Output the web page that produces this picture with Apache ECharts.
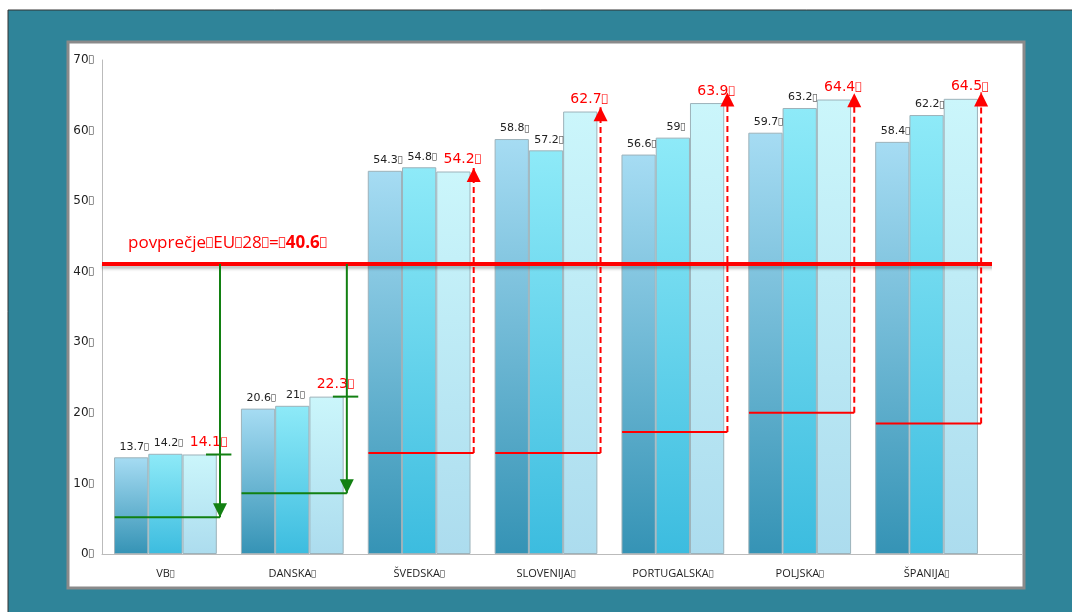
<!DOCTYPE html>
<html lang="sl">
<head>
<meta charset="UTF-8">
<title>povprečje EU28</title>
<style>
    html, body { margin: 0; padding: 0; background: #fff; }
    #main { width: 1072px; height: 612px; }
</style>
</head>
<body>
<div id="main"></div>
<script src="https://cdn.jsdelivr.net/npm/echarts@6/dist/echarts.min.js"></script>
<script>
    var T = '\uE000'; // stray glyph that shows as a box in the source
    var countries = ['VB', 'DANSKA', 'ŠVEDSKA', 'SLOVENIJA', 'PORTUGALSKA', 'POLJSKA', 'ŠPANIJA'];
    var valuesA = [13.7, 20.6, 54.3, 58.8, 56.6, 59.7, 58.4];
    var valuesB = [14.2, 21, 54.8, 57.2, 59, 63.2, 62.2];
    var valuesC = [14.1, 22.3, 54.2, 62.7, 63.9, 64.4, 64.5];
    var euAverage = 40.6;
    var euLineLevel = 41.1;
    // green drop arrows (below average) and red rise arrows (above average)
    var dropLevel = [5.2, 8.6, null, null, null, null, null];
    var riseBase = [null, null, 14.3, 14.3, 17.3, 20.0, 18.5];
    var riseTop = [null, null, 54.7, 63.3, 65.4, 65.3, 65.4];

    var myChart = echarts.init(document.getElementById('main'));

    function grad(top, bottom) {
        return new echarts.graphic.LinearGradient(0, 0, 0, 1, [
            {offset: 0, color: top},
            {offset: 1, color: bottom}
        ]);
    }

    // value + small box glyph
    function boxed(v) {
        return '{v|' + v + '}{t|' + T + '}';
    }
    function boxRich(color, size, family) {
        return {
            v: {color: color, fontSize: size, fontFamily: family},
            t: {color: color, fontSize: Math.round(size * 0.75), fontFamily: 'DejaVu Sans'}
        };
    }

    function barSeries(data, top, bottom, labelColor, labelSize, dx) {
        return {
            type: 'bar',
            xAxisIndex: 0,
            yAxisIndex: 0,
            data: data,
            barGap: 0,
            barCategoryGap: '19%',
            itemStyle: {
                color: grad(top, bottom),
                borderColor: '#9db2ba',
                borderWidth: 1
            },
            label: {
                show: true,
                position: 'top',
                offset: [dx, 0],
                formatter: function (p) { return boxed(p.value); },
                rich: boxRich(labelColor, labelSize, 'DejaVu Sans')
            },
            z: 2
        };
    }

    var series = [
        barSeries(valuesA, '#a6dcf3', '#3593b5', '#222', 11, 3),
        barSeries(valuesB, '#8eeaf8', '#3cbcdf', '#222', 11, 3),
        barSeries(valuesC, '#cbf6fb', '#acdcee', '#ff0000', 14, 9)
    ];

    // average line
    series.push({
        type: 'line',
        xAxisIndex: 1,
        yAxisIndex: 0,
        clip: false,
        symbol: 'none',
        data: [[0, euLineLevel], [7.05, euLineLevel]],
        lineStyle: {
            color: '#ff0000', width: 4,
            shadowColor: 'rgba(0,0,0,0.25)', shadowBlur: 3, shadowOffsetY: 3
        },
        z: 5
    });

    for (var i = 0; i < countries.length; i++) {
        var xr = i + 0.93;
        if (dropLevel[i] != null) {
            series.push({
                type: 'line', xAxisIndex: 1, yAxisIndex: 0, clip: false,
                symbol: 'none',
                data: [[i + 0.1, dropLevel[i]], [xr, dropLevel[i]]],
                lineStyle: {color: '#128012', width: 2},
                z: 6
            });
            series.push({
                type: 'line', xAxisIndex: 1, yAxisIndex: 0, clip: false,
                symbol: 'none',
                data: [[i + 0.82, valuesC[i]], [i + 1.02, valuesC[i]]],
                lineStyle: {color: '#128012', width: 2},
                z: 6
            });
            series.push({
                type: 'line', xAxisIndex: 1, yAxisIndex: 0, clip: false,
                symbol: 'none',
                data: [
                    [xr, euLineLevel],
                    {value: [xr, dropLevel[i]], symbol: 'triangle', symbolSize: [14, 14],
                        symbolRotate: 180, symbolOffset: [0, -7]}
                ],
                itemStyle: {color: '#128012'},
                lineStyle: {color: '#128012', width: 2},
                z: 6
            });
        }
        if (riseBase[i] != null) {
            series.push({
                type: 'line', xAxisIndex: 1, yAxisIndex: 0, clip: false,
                symbol: 'none',
                data: [[i + 0.1, riseBase[i]], [xr, riseBase[i]]],
                lineStyle: {color: '#ff0000', width: 2},
                z: 6
            });
            series.push({
                type: 'line', xAxisIndex: 1, yAxisIndex: 0, clip: false,
                symbol: 'none',
                data: [
                    [xr, riseBase[i]],
                    {value: [xr, riseTop[i]], symbol: 'triangle', symbolSize: [14, 14],
                        symbolOffset: [0, 7]}
                ],
                itemStyle: {color: '#ff0000'},
                lineStyle: {color: '#ff0000', width: 2, type: [6, 4]},
                z: 6
            });
        }
    }

    var option = {
        animation: false,
        backgroundColor: '#fff',
        textStyle: {fontFamily: 'DejaVu Sans'},
        graphic: [
            {
                type: 'rect', z: -100,
                shape: {x: 8, y: 10, width: 1066, height: 604},
                style: {fill: '#2f8499', stroke: '#333', lineWidth: 1}
            },
            {
                type: 'rect', z: -99,
                shape: {x: 68, y: 42, width: 956, height: 546},
                style: {fill: '#fff', stroke: '#8a8a8a', lineWidth: 3}
            },
            {
                type: 'line', z: 1,
                shape: {x1: 990, y1: 554.5, x2: 1022, y2: 554.5},
                style: {stroke: '#bbb', lineWidth: 1}
            },
            {
                type: 'text', z: 10,
                x: 128, y: 243,
                style: {
                    text: '{a|povprečje}{t|' + T + '}{a|EU}{t|' + T + '}{a|28}{t|' + T + '}{a|=}{t|' + T + '}{b|' + euAverage + '}{t|' + T + '}',
                    verticalAlign: 'middle',
                    rich: {
                        a: {fill: '#ff0000', fontSize: 17, fontFamily: 'Open Sans'},
                        b: {fill: '#ff0000', fontSize: 17, fontWeight: 'bold', fontFamily: 'Open Sans'},
                        t: {fill: '#ff0000', fontSize: 12, fontFamily: 'DejaVu Sans'}
                    }
                }
            }
        ],
        grid: {left: 102, right: 82, top: 60, bottom: 58, containLabel: false},
        xAxis: [
            {
                type: 'category',
                data: countries,
                axisLine: {lineStyle: {color: '#bbb'}},
                axisTick: {show: false},
                axisLabel: {
                    interval: 0,
                    margin: 14,
                    formatter: function (v) { return boxed(v); },
                    rich: boxRich('#222', 11, 'Open Sans')
                }
            },
            {
                type: 'value', min: 0, max: 7, show: false, position: 'top'
            }
        ],
        yAxis: {
            type: 'value',
            min: 0, max: 70, interval: 10,
            axisLine: {show: true, lineStyle: {color: '#bbb'}},
            axisTick: {show: false},
            splitLine: {show: false},
            axisLabel: {
                margin: 8,
                formatter: function (v) { return boxed(v); },
                rich: boxRich('#222', 12, 'DejaVu Sans')
            }
        },
        series: series
    };
    myChart.setOption(option);
</script>
</body>
</html>
